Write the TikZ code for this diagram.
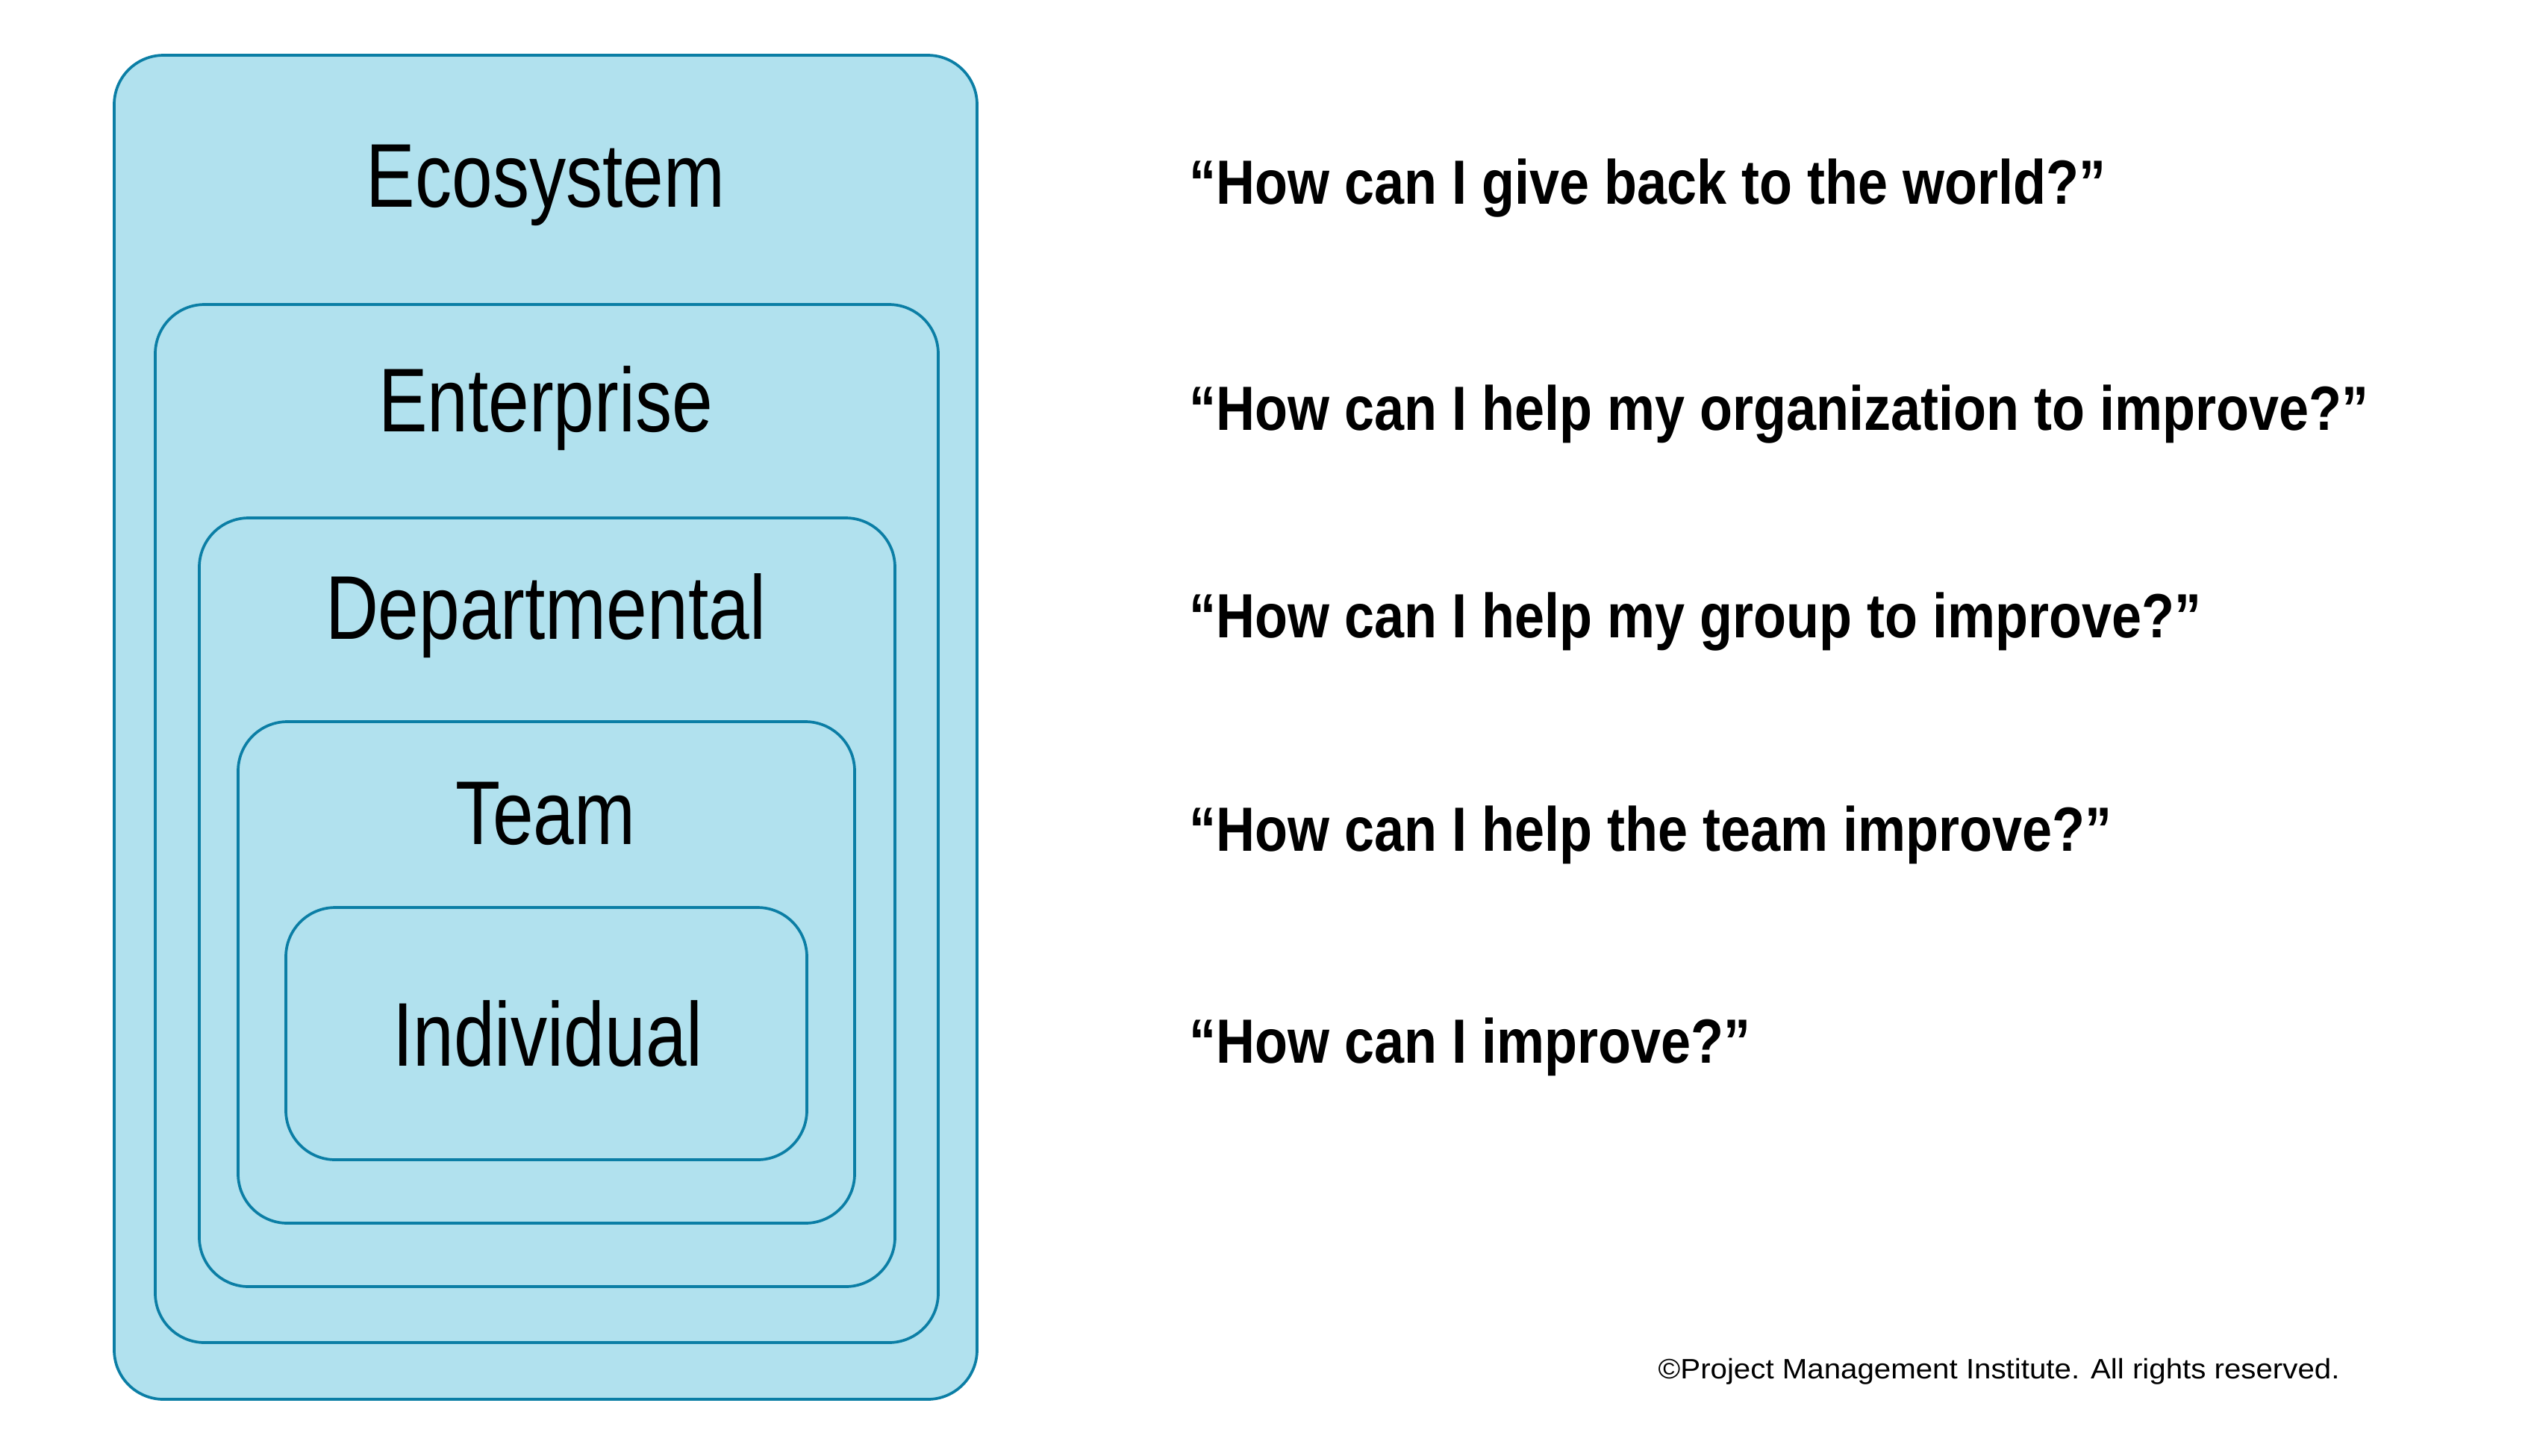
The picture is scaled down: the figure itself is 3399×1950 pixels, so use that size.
\documentclass[tikz,border=0pt]{standalone}
\usepackage{fontspec}
\setmainfont{Liberation Sans}
\newfontfamily\lblfont{Liberation Sans}[FakeStretch=0.81]
\newfontfamily\qfont{Liberation Sans}[FakeStretch=0.86]
\newfontfamily\cpfont{Liberation Sans}[FakeStretch=1.07]
\definecolor{boxfill}{HTML}{B1E1EE}
\definecolor{boxline}{HTML}{0B7EA5}
\tikzset{
  levelbox/.style={draw=boxline, fill=boxfill, line width=1.05pt, rounded corners=0.66cm},
  lvllabel/.style={anchor=base, inner sep=0pt, font=\lblfont\fontsize{34.5}{40}\selectfont},
  question/.style={anchor=base west, inner sep=0pt, font=\qfont\bfseries\fontsize{23.8}{28}\selectfont},
  copyr/.style={anchor=base west, inner sep=0pt, font=\cpfont\fontsize{10.7}{13}\selectfont}
}
\begin{document}
\begin{tikzpicture}[x=0.01cm, y=-0.01cm]
\useasboundingbox (0,0) rectangle (3399,1950);
\draw[levelbox] (153,74) rectangle (1309,1875);
\draw[levelbox] (208,408) rectangle (1257,1799);
\draw[levelbox] (267,694) rectangle (1199,1724);
\draw[levelbox] (319,967) rectangle (1145,1639);
\draw[levelbox] (383,1216) rectangle (1081,1554);
\node[lvllabel] (eco) at (731,277) {Ecosystem};
\node[lvllabel] (ent) at (731,578) {Enterprise};
\node[lvllabel] (dep) at (731,856) {Departmental};
\node[lvllabel] (team) at (731,1131) {Team};
\node[lvllabel] (ind) at (734,1428) {Individual};
\node[question] (q1) at (1593,273) {“How can I give back to the world?”};
\node[question] (q2) at (1593,576) {“How can I help my organization to improve?”};
\node[question] (q3) at (1593,854) {“How can I help my group to improve?”};
\node[question] (q4) at (1593,1140) {“How can I help the team improve?”};
\node[question] (q5) at (1593,1424) {“How can I improve?”};
\node[copyr] (cp) at (2221,1847) {©Project Management Institute. All rights reserved.};
\end{tikzpicture}
\end{document}
